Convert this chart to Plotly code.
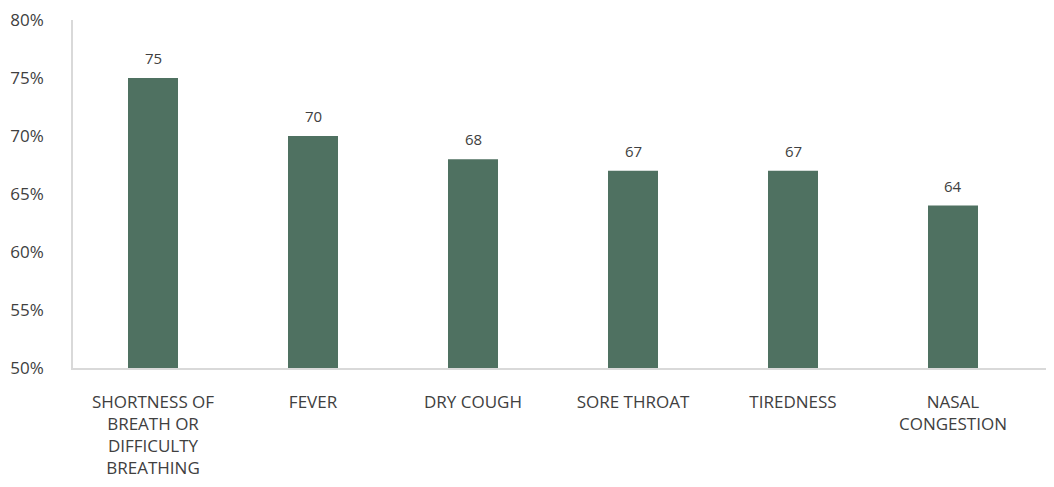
import plotly.graph_objects as go

categories = ["SHORTNESS OF<br>BREATH OR<br>DIFFICULTY<br>BREATHING", "FEVER", "DRY COUGH",
              "SORE THROAT", "TIREDNESS", "NASAL<br>CONGESTION"]
values = [75, 70, 68, 67, 67, 64]
y_ticks = [50, 55, 60, 65, 70, 75, 80]

font = "Open Sans, Liberation Sans, sans-serif"
text_color = "#404040"

x_pos = list(range(len(categories)))

fig = go.Figure(go.Bar(
    x=x_pos,
    y=values,
    width=0.3125,
    marker=dict(color="#4F7161", line=dict(width=0)),
))

for xi, v in zip(x_pos, values):
    fig.add_annotation(
        x=xi, y=v, text=str(v), showarrow=False,
        yanchor="bottom", yshift=8,
        font=dict(size=15, color=text_color, family=font),
    )

fig.update_layout(
    width=1046, height=479,
    margin=dict(l=65, r=0, t=12, b=119, autoexpand=False),
    paper_bgcolor="white", plot_bgcolor="white",
    showlegend=False,
    font=dict(family=font, color=text_color, size=17),
    xaxis=dict(
        tickmode="array",
        tickvals=x_pos,
        ticktext=categories,
        range=[-0.5, 5.5 + 21 / 160],
        showline=True, linecolor="#D9D9D9", linewidth=1.5,
        showgrid=False, zeroline=False, ticks="",
        ticklabelstandoff=18,
        ticklabeloverflow="allow",
        automargin=False,
        tickfont=dict(size=17, color=text_color),
    ),
    yaxis=dict(
        range=[50, 80],
        tickmode="array",
        tickvals=y_ticks,
        ticktext=[f"{t}%" for t in y_ticks],
        showline=True, linecolor="#D9D9D9", linewidth=1.5,
        showgrid=False, zeroline=False, ticks="",
        ticklabelstandoff=24,
        ticklabeloverflow="allow",
        automargin=False,
        tickfont=dict(size=17, color=text_color),
    ),
)

fig.write_html("out.html")
